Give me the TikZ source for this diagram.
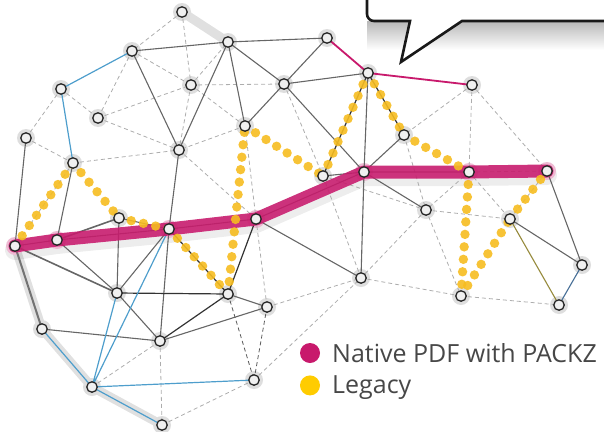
\documentclass[tikz,border=0pt]{standalone}
\usepackage{fontspec}
\setmainfont{Open Sans}
\usetikzlibrary{calc, positioning}
\definecolor{packz}{RGB}{200,25,108}
\definecolor{legacy}{RGB}{246,188,32}
\definecolor{legacykey}{RGB}{255,204,0}
\definecolor{wireblue}{RGB}{78,158,204}
\definecolor{olive}{RGB}{150,138,60}
\definecolor{steel}{RGB}{70,110,150}
\pgfdeclarelayer{halo}
\pgfdeclarelayer{back}
\pgfsetlayers{halo,back,main}

\begin{document}
\begin{tikzpicture}[x=1pt, y=-1pt,
	dot/.style={circle, draw=black!85, fill=black!6, line width=1.3pt, inner sep=0pt, minimum size=10.5pt},
	wire/.style={draw=black!60, line width=1.1pt},
	darkwire/.style={draw=black!80, line width=1.2pt},
	faint/.style={draw=black!32, line width=0.8pt, dash pattern=on 4pt off 3pt},
	bluewire/.style={draw=wireblue, line width=1.2pt},
	packzwire/.style={draw=packz, line width=1.8pt},
	native/.style={draw=packz, line width=13pt, line join=round, line cap=round, opacity=.88},
	oldway/.style={draw=legacy, line width=9.4pt, line cap=round, dash pattern=on 0pt off 12.5pt, opacity=.9},
	band/.style={draw=black!12, line width=9pt, line cap=round, line join=round},
	key/.style={circle, inner sep=0pt, minimum size=20pt},
	legend/.style={inner sep=0pt, text=black!72, font=\fontsize{25}{30}\selectfont}
]
	\useasboundingbox (0,0) rectangle (604,431);
	% network nodes
	\node[dot] (A) at (182,12) {};
	\node[dot] (B) at (132,51) {};
	\node[dot] (C) at (228,42) {};
	\node[dot] (D) at (327,38) {};
	\node[dot] (E) at (368,73) {};
	\node[dot] (F) at (472,85) {};
	\node[dot] (G) at (61,89) {};
	\node[dot] (H) at (98,118) {};
	\node[dot] (I) at (26,138) {};
	\node[dot] (AA) at (191,85) {};
	\node[dot] (J) at (284,84) {};
	\node[dot] (K) at (245,126) {};
	\node[dot] (L) at (179,150) {};
	\node[dot] (M) at (404,135) {};
	\node[dot] (N) at (73,163) {};
	\node[dot] (O) at (323,176) {};
	\node[dot] (P) at (364,172) {};
	\node[dot] (Q) at (469,172) {};
	\node[dot] (R) at (547,171) {};
	\node[dot] (S) at (15,246) {};
	\node[dot] (T) at (57,240) {};
	\node[dot] (U) at (119,218) {};
	\node[dot] (V) at (169,229) {};
	\node[dot] (W) at (256,219) {};
	\node[dot] (X) at (426,210) {};
	\node[dot] (Y) at (510,219) {};
	\node[dot] (Z) at (582,265) {};
	\node[dot] (a) at (361,278) {};
	\node[dot] (b) at (228,294) {};
	\node[dot] (c) at (117,293) {};
	\node[dot] (d) at (267,307) {};
	\node[dot] (e) at (461,296) {};
	\node[dot] (f) at (559,305) {};
	\node[dot] (g) at (42,329) {};
	\node[dot] (h) at (160,341) {};
	\node[dot] (i) at (254,380) {};
	\node[dot] (j) at (92,387) {};
	\node[dot] (k) at (162,425) {};

	\begin{pgfonlayer}{halo}
		\shade[top color=black!28, bottom color=white] (367,21) rectangle (604,50);
		\draw[band] (A.center) -- (C.center);
		\draw[band] (S.center) -- (g.center) -- (j.center) -- (k.center);
		\draw[black, opacity=.07, line width=20pt, line join=round, line cap=round, transform canvas={yshift=-4pt}]
			(S.center) -- (T.center) -- (V.center) -- (W.center) -- (P.center) -- (Q.center) -- (R.center);
		\foreach \n in {A,B,C,D,E,F,G,H,I,AA,J,K,L,M,N,O,U,X,Y,Z,a,b,c,d,e,f,g,h,i,j,k}
			\fill[black!13] (\n) circle (9pt);
		\foreach \n in {S,T,V,W,P,Q,R}
			\fill[packz!30] (\n) circle (9pt);
	\end{pgfonlayer}

	\begin{pgfonlayer}{back}
		\draw[faint] (A.center) -- (B.center) (A.center) -- (AA.center) (B.center) -- (AA.center)
			(B.center) -- (H.center) (G.center) -- (H.center) (G.center) -- (I.center)
			(H.center) -- (AA.center) (H.center) -- (L.center) (AA.center) -- (J.center)
			(AA.center) -- (K.center) (AA.center) -- (L.center) (AA.center) -- (C.center)
			(K.center) -- (L.center) (K.center) -- (W.center) (J.center) -- (O.center)
			(F.center) -- (M.center) (F.center) -- (Q.center) (F.center) -- (R.center)
			(M.center) -- (X.center) (Q.center) -- (X.center) (Q.center) -- (Y.center)
			(X.center) -- (Y.center) (X.center) -- (a.center) (X.center) -- (e.center)
			(O.center) -- (X.center) (O.center) -- (a.center) (e.center) -- (a.center)
			(e.center) -- (f.center) (Y.center) -- (R.center) (Q.center) -- (R.center)
			(W.center) -- (d.center) (d.center) -- (a.center) (i.center) -- (a.center)
			(h.center) -- (k.center) (j.center) -- (h.center) (i.center) -- (k.center)
			(N.center) -- (L.center) (N.center) -- (I.center) (L.center) -- (W.center)
			(N.center) -- (S.center);
		\draw[faint, black!65] (b.center) -- (i.center) (d.center) -- (i.center);
		\draw[wire] (B.center) -- (C.center) (B.center) -- (L.center) (L.center) -- (C.center)
			(C.center) -- (D.center) (C.center) -- (J.center) (C.center) -- (K.center)
			(J.center) -- (D.center) (J.center) -- (K.center) (J.center) -- (E.center)
			(J.center) -- (P.center) (E.center) -- (P.center) (M.center) -- (P.center)
			(O.center) -- (P.center) (P.center) -- (X.center) (P.center) -- (a.center)
			(R.center) -- (Z.center) (Y.center) -- (Z.center) (I.center) -- (S.center)
			(N.center) -- (T.center) (L.center) -- (V.center) (T.center) -- (c.center)
			(U.center) -- (c.center) (V.center) -- (c.center) (c.center) -- (h.center)
			(V.center) -- (h.center) (g.center) -- (h.center) (h.center) -- (d.center)
			(b.center) -- (d.center) (W.center) -- (a.center) (U.center) -- (V.center)
			(S.center) -- (T.center) (T.center) -- (V.center) (V.center) -- (W.center)
			(W.center) -- (P.center) (P.center) -- (Q.center);
		\draw[wire, line width=1.6pt] (T.center) -- (U.center) (S.center) -- (c.center);
		\draw[wire, line width=2pt, black!55] (S.center) -- (g.center);
		\draw[darkwire] (c.center) -- (b.center) (h.center) -- (b.center) (W.center) -- (b.center)
			(E.center) -- (O.center) (E.center) -- (M.center) (V.center) -- (b.center);
		\draw[bluewire] (B.center) -- (G.center) (G.center) -- (N.center) (V.center) -- (j.center)
			(c.center) -- (j.center) (g.center) -- (j.center) (j.center) -- (k.center)
			(j.center) -- (i.center);
		\draw[packzwire] (D.center) -- (E.center) (E.center) -- (F.center);
		\draw[olive, line width=1.1pt] (Y.center) -- (f.center);
		\draw[steel, line width=1.1pt] (Z.center) -- (f.center);
		% native PDF route
		\draw[native] (S.center) -- (T.center) -- (V.center) -- (W.center) -- (P.center) -- (Q.center) -- (R.center);
		% legacy route
		\draw[oldway] (S.center) -- (N.center);
		\draw[oldway] (N.center) -- (U.center);
		\draw[oldway] (U.center) -- (V.center);
		\draw[oldway] (V.center) -- (b.center);
		\draw[oldway] (b.center) -- (K.center);
		\draw[oldway] (K.center) -- (O.center);
		\draw[oldway] (O.center) -- (E.center);
		\draw[oldway] (E.center) -- (M.center);
		\draw[oldway] (M.center) -- (Q.center);
		\draw[oldway] (Q.center) -- (e.center);
		\draw[oldway] (e.center) -- (Y.center);
		\draw[oldway] (Y.center) -- (R.center);
	\end{pgfonlayer}

	% speech bubble
	\draw[line width=2.6pt, black!90, fill=white, line join=miter]
		[rounded corners=7pt] (367,-10) -- (367,21) [sharp corners] -- (410,21) -- (401,62) -- (462,21) -- (612,21) -- (612,-10);

	% legend
	\node[key, fill=packz] (keynative) at (310,353) {};
	\node[key, fill=legacykey, below=12pt of keynative] (keylegacy) {};
	\node[legend, anchor=base west] (labnative) at (332,362) {Native PDF with PACKZ};
	\node[legend, anchor=base west] (lablegacy) at (332,393) {Legacy};
\end{tikzpicture}
\end{document}
